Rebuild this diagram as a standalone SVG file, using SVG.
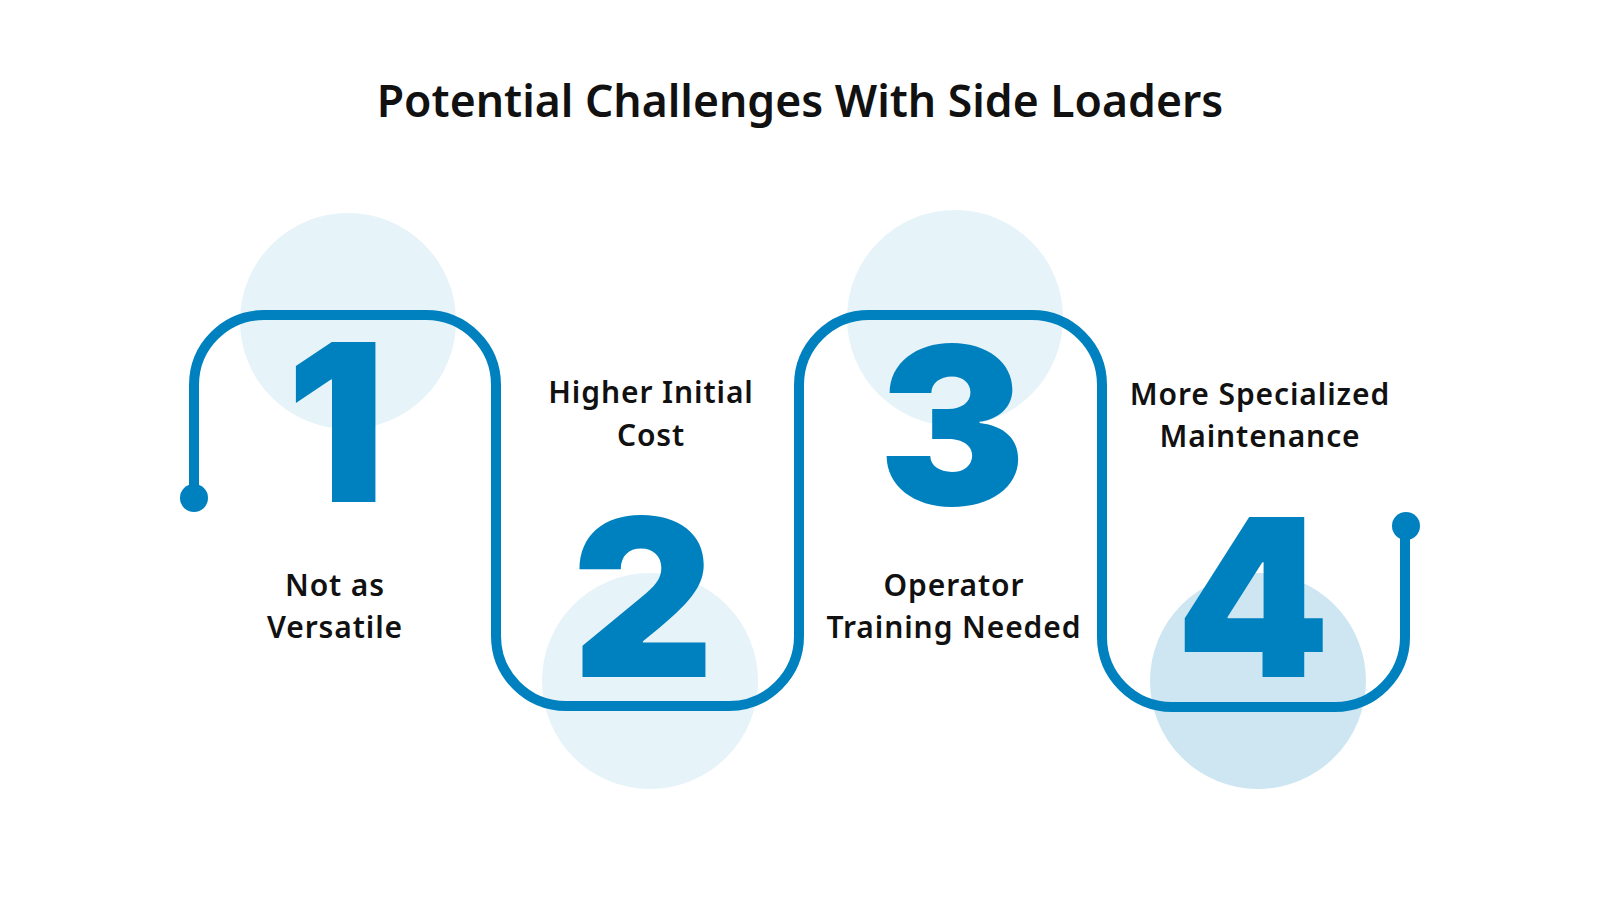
<svg xmlns="http://www.w3.org/2000/svg" width="1600" height="900" viewBox="0 0 1600 900">
<style>
.bg{fill:#e6f3f9}
.bg4{fill:#cde6f2}
.num{font-family:Inter,"Roboto","DejaVu Sans",sans-serif;font-weight:900;font-size:220px;fill:#0081bf;text-anchor:middle}
.lbl{font-family:"Noto Sans","Open Sans","Liberation Sans",sans-serif;font-weight:600;font-size:30px;letter-spacing:0.9px;fill:#111;text-anchor:middle}
.title{font-family:"Noto Sans","Open Sans","Liberation Sans",sans-serif;font-weight:600;font-size:44.5px;fill:#111;text-anchor:middle}
.line{fill:none;stroke:#0081bf;stroke-width:10}
.dot{fill:#0081bf}
</style>
<rect width="1600" height="900" fill="#fff"/>
<text class="title" x="800" y="117">Potential Challenges With Side Loaders</text>
<g id="node-1">
<circle class="bg" cx="348" cy="321" r="108"/>
</g>
<g id="node-2">
<circle class="bg" cx="650" cy="681" r="108"/>
</g>
<g id="node-3">
<circle class="bg" cx="955" cy="318" r="108"/>
</g>
<g id="node-4">
<circle class="bg4" cx="1258" cy="681" r="108"/>
</g>
<g id="connectors">
<path class="line" d="M194,498 V385 A70,70 0 0 1 264,315 H426 A70,70 0 0 1 496,385 V636 A70,70 0 0 0 566,706 H729 A70,70 0 0 0 799,636 V385 A70,70 0 0 1 869,315 H1032 A70,70 0 0 1 1102,385 V637 A70,70 0 0 0 1172,707 H1335 A70,70 0 0 0 1405,637 V526"/>
<circle class="dot" cx="194" cy="498" r="14"/>
<circle class="dot" cx="1406" cy="526" r="14"/>
</g>
<g id="node-1-content">
<text class="num" x="336" y="502">1</text>
<text class="lbl" x="335" y="596">Not as</text>
<text class="lbl" x="335" y="638">Versatile</text>
</g>
<g id="node-2-content">
<text class="num" x="643" y="677">2</text>
<text class="lbl" x="651" y="403">Higher Initial</text>
<text class="lbl" x="651" y="446">Cost</text>
</g>
<g id="node-3-content">
<text class="num" x="952" y="505">3</text>
<text class="lbl" x="954" y="596">Operator</text>
<text class="lbl" x="954" y="638">Training Needed</text>
</g>
<g id="node-4-content">
<text class="num" x="1253" y="677">4</text>
<text class="lbl" x="1260" y="405">More Specialized</text>
<text class="lbl" x="1260" y="447">Maintenance</text>
</g>
</svg>
